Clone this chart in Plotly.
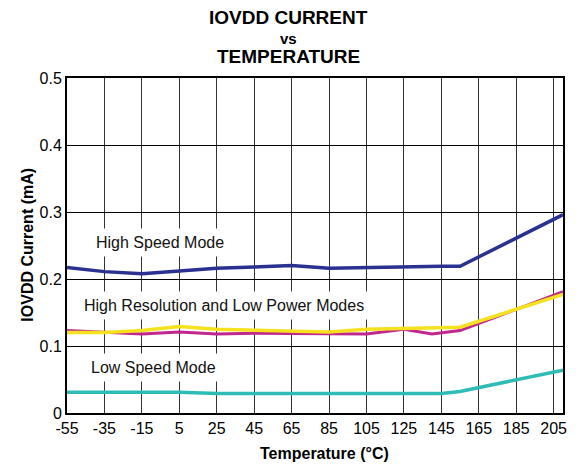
import plotly.graph_objects as go

# Temperature sweep points (°C)
temps = [-55, -35, -15, 5, 25, 45, 65, 85, 105, 125, 145, 155, 210]
temps_hr = [-55, -35, -15, 5, 25, 45, 65, 85, 105, 125, 140, 155, 210]

# IOVDD current (mA) per operating mode
high_speed = [0.217, 0.211, 0.208, 0.212, 0.216, 0.218, 0.220, 0.216, 0.217, 0.219, 0.219, 0.219, 0.296]
high_res = [0.123, 0.120, 0.118, 0.121, 0.118, 0.119, 0.119, 0.119, 0.118, 0.125, 0.118, 0.123, 0.181]
low_power = [0.120, 0.120, 0.123, 0.129, 0.125, 0.124, 0.123, 0.121, 0.125, 0.126, 0.128, 0.128, 0.177]
low_speed = [0.031, 0.031, 0.031, 0.031, 0.029, 0.029, 0.029, 0.029, 0.029, 0.029, 0.029, 0.032, 0.064]

x_ticks = [-55, -35, -15, 5, 25, 45, 65, 85, 105, 125, 145, 165, 185, 205]
y_ticks = [0, 0.1, 0.2, 0.3, 0.4, 0.5]

FONT = "Liberation Sans, Arial, Helvetica, sans-serif"

fig = go.Figure()
fig.add_trace(go.Scatter(x=temps, y=low_speed, mode="lines",
                         line=dict(color="#2ebdb6", width=3.5), showlegend=False))
fig.add_trace(go.Scatter(x=temps_hr, y=high_res, mode="lines",
                         line=dict(color="#c0288e", width=3), showlegend=False))
fig.add_trace(go.Scatter(x=temps, y=low_power, mode="lines",
                         line=dict(color="#f5e11e", width=3.5), showlegend=False))
fig.add_trace(go.Scatter(x=temps, y=high_speed, mode="lines",
                         line=dict(color="#2b3190", width=3.5), showlegend=False))

label_font = dict(family=FONT, size=16, color="#111")
for text, x, y in [
    ("High Speed Mode", -5.1, 0.255),
    ("High Resolution and Low Power Modes", 29.1, 0.161),
    ("Low Speed Mode", -8.6, 0.0676),
]:
    fig.add_annotation(x=x, y=y, xref="x", yref="y", text=text, showarrow=False,
                       font=label_font, bgcolor="white", borderpad=5,
                       xanchor="center", yanchor="middle")

# Three-line title
for text, y, size in [("IOVDD CURRENT", 1.182, 19), ("vs", 1.118, 15), ("TEMPERATURE", 1.063, 19)]:
    fig.add_annotation(x=0.446, y=y, xref="paper", yref="paper", text=f"<b>{text}</b>",
                       showarrow=False, font=dict(family=FONT, size=size, color="black"),
                       xanchor="center", yanchor="middle")

# Axis titles
fig.add_annotation(x=0.519, y=-0.12, xref="paper", yref="paper", text="<b>Temperature (°C)</b>",
                   showarrow=False, font=dict(family=FONT, size=16, color="black"),
                   xanchor="center", yanchor="middle")
fig.add_annotation(x=-0.0796, y=0.501, xref="paper", yref="paper", text="<b>IOVDD Current (mA)</b>",
                   textangle=-90, showarrow=False, font=dict(family=FONT, size=16, color="black"),
                   xanchor="center", yanchor="middle")

fig.update_xaxes(range=[-55, 210], tickvals=x_ticks, ticktext=[str(t) for t in x_ticks],
                 showgrid=True, gridcolor="#333", gridwidth=1, zeroline=False,
                 showline=True, linecolor="black", linewidth=2, mirror=True,
                 ticks="", tickfont=dict(family=FONT, size=16, color="black"))
fig.update_yaxes(range=[0, 0.5], tickvals=y_ticks, ticktext=["0", "0.1", "0.2", "0.3", "0.4", "0.5"],
                 showgrid=True, gridcolor="black", gridwidth=1, zeroline=False,
                 showline=True, linecolor="black", linewidth=2, mirror=True,
                 ticks="", tickfont=dict(family=FONT, size=16, color="black"))

fig.update_layout(
    width=580, height=466,
    margin=dict(l=66.5, r=17.3, t=78, b=53),
    paper_bgcolor="white", plot_bgcolor="white",
    font=dict(family=FONT),
)

fig.write_html("out.html")
